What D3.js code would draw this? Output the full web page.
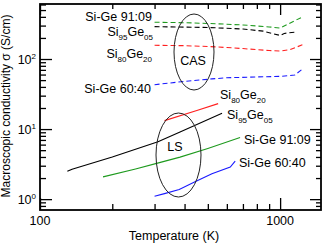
<!DOCTYPE html>
<html>
<head>
<meta charset="utf-8">
<script src="https://cdn.jsdelivr.net/npm/d3@7"></script>
<style>
  body { margin: 0; background: #fff; }
  svg { font-family: "Liberation Sans", Arial, sans-serif; }
</style>
</head>
<body>
<svg width="324" height="243"></svg>
<script>
// CAS curves (dashed)
var casT91 = [300, 400, 500, 600, 700, 800, 900, 1000, 1240];
var casS91 = [335, 330, 322, 314, 306, 296, 287, 277, 400];
var casT95 = [300, 500, 700, 850, 1000, 1040, 1150];
var casS95 = [290, 282, 268, 250, 217, 232, 242];
var casT80 = [300, 400, 500, 600, 700, 800, 900, 1000, 1100, 1240];
var casS80 = [157, 155, 151, 146, 141, 136, 132, 130, 136, 160];
var casT60 = [300, 400, 520, 600, 800, 1000, 1150, 1240];
var casS60 = [43, 48, 52, 54, 55.5, 56.5, 59, 72];

// LS curves (solid)
var lsT95 = [130, 136, 200, 310, 383, 450, 573];
var lsS95 = [2.5, 2.68, 4.0, 6.6, 9.1, 11.6, 16.8];
var lsT80 = [330, 450, 552];
var lsS80 = [13.2, 18.4, 23.1];
var lsT91 = [183, 250, 306, 383, 500, 681];
var lsS91 = [2.08, 2.7, 3.24, 3.98, 5.3, 7.56];
var lsT60 = [300, 330, 380, 440, 520, 620, 650];
var lsS60 = [1.10, 1.20, 1.37, 1.75, 2.30, 2.87, 3.50];

var xMajor = [100, 1000];
var xMinor = [200, 300, 400, 500, 600, 700, 800, 900];
var yMajor = [1, 10, 100];
var yMinor = [0.8, 0.9, 2, 3, 4, 5, 6, 7, 8, 9, 20, 30, 40, 50, 60, 70, 80, 90, 200, 300, 400, 500, 600];
var yExp = ["0", "1", "2"];

var pLeft = 40, pRight = 321, pTop = 4, pBottom = 210;

var x = d3.scaleLog().domain([100, 1480]).range([pLeft, pRight]);
var y = d3.scaleLog().domain([0.7, 610]).range([pBottom, pTop]);

var svg = d3.select("svg");

var zip = function(ts, ss){
	return ts.map(function(t, i){ return { t: t, s: ss[i] }; });
};

var line = d3.line()
	.x(function(d){ return x(d.t); })
	.y(function(d){ return y(d.s); });

var curves = [
	{ d: zip(casT91, casS91), c: "#1e9a1e", dash: true },
	{ d: zip(casT95, casS95), c: "#000", dash: true },
	{ d: zip(casT80, casS80), c: "#ff2020", dash: true },
	{ d: zip(casT60, casS60), c: "#1a1aff", dash: true },
	{ d: zip(lsT95, lsS95), c: "#000", dash: false },
	{ d: zip(lsT80, lsS80), c: "#ff2020", dash: false },
	{ d: zip(lsT91, lsS91), c: "#1e9a1e", dash: false },
	{ d: zip(lsT60, lsS60), c: "#1a1aff", dash: false }
];

svg.selectAll("path.curve")
	.data(curves)
	.enter()
	.append("path")
	.attr("class", "curve")
	.attr("d", function(c){ return line(c.d); })
	.attr("fill", "none")
	.attr("stroke", function(c){ return c.c; })
	.attr("stroke-width", 1.1)
	.attr("stroke-dasharray", function(c){ return c.dash ? "5,3" : null; });

// axes: ticks point inward on all four sides
var axisStyle = function(g){
	g.select(".domain").remove();
	g.selectAll(".tick line").attr("stroke", "#000").attr("stroke-width", 1.3);
	g.selectAll(".tick text").remove();
};

svg.append("g").attr("transform", "translate(0," + pBottom + ")")
	.call(d3.axisBottom(x).tickValues(xMajor).tickSize(-12)).call(axisStyle);
svg.append("g").attr("transform", "translate(0," + pBottom + ")")
	.call(d3.axisBottom(x).tickValues(xMinor).tickSize(-6)).call(axisStyle);
svg.append("g").attr("transform", "translate(0," + pTop + ")")
	.call(d3.axisTop(x).tickValues(xMajor).tickSize(-11)).call(axisStyle);
svg.append("g").attr("transform", "translate(0," + pTop + ")")
	.call(d3.axisTop(x).tickValues(xMinor).tickSize(-5)).call(axisStyle);
svg.append("g").attr("transform", "translate(" + pLeft + ",0)")
	.call(d3.axisLeft(y).tickValues(yMajor).tickSize(-12)).call(axisStyle);
svg.append("g").attr("transform", "translate(" + pLeft + ",0)")
	.call(d3.axisLeft(y).tickValues(yMinor).tickSize(-6)).call(axisStyle);
svg.append("g").attr("transform", "translate(" + pRight + ",0)")
	.call(d3.axisRight(y).tickValues(yMajor).tickSize(-11)).call(axisStyle);
svg.append("g").attr("transform", "translate(" + pRight + ",0)")
	.call(d3.axisRight(y).tickValues(yMinor).tickSize(-5)).call(axisStyle);

svg.append("rect")
	.attr("x", pLeft).attr("y", pTop)
	.attr("width", pRight - pLeft).attr("height", pBottom - pTop)
	.attr("fill", "none").attr("stroke", "#000").attr("stroke-width", 1.8);

// tick labels
svg.selectAll("text.xl")
	.data(xMajor)
	.enter()
	.append("text")
	.attr("class", "xl")
	.attr("x", function(d){ return x(d); })
	.attr("y", 225)
	.attr("text-anchor", "middle")
	.attr("font-size", 12.5)
	.text(function(d){ return d; });

var yl = svg.selectAll("text.yl")
	.data(yMajor)
	.enter()
	.append("text")
	.attr("class", "yl")
	.attr("x", 36)
	.attr("y", function(d){ return y(d) + 5; })
	.attr("text-anchor", "end")
	.attr("font-size", 12.5);
yl.append("tspan").text("10");
yl.append("tspan").attr("font-size", 8).attr("dy", -5).text(function(d, i){ return yExp[i]; });

// axis titles
svg.append("text")
	.attr("x", 174).attr("y", 240)
	.attr("text-anchor", "middle")
	.attr("font-size", 12.5)
	.text("Temperature (K)");

svg.append("text")
	.attr("transform", "translate(10,106) rotate(-90)")
	.attr("text-anchor", "middle")
	.attr("font-size", 12)
	.text("Macroscopic conductivity \u03c3 (S/cm)");

// curve labels, with subscripts
var labels = [
	{ x: 152, y: 20.5, a: "end", parts: [["Si-Ge 91:09", 0]] },
	{ x: 153, y: 36, a: "end", parts: [["Si", 0], ["95", 1], ["Ge", 0], ["05", 1]] },
	{ x: 152, y: 58, a: "end", parts: [["Si", 0], ["80", 1], ["Ge", 0], ["20", 1]] },
	{ x: 151, y: 93, a: "end", parts: [["Si-Ge 60:40", 0]] },
	{ x: 220, y: 99, a: "start", parts: [["Si", 0], ["80", 1], ["Ge", 0], ["20", 1]] },
	{ x: 227, y: 119, a: "start", parts: [["Si", 0], ["95", 1], ["Ge", 0], ["05", 1]] },
	{ x: 244, y: 144, a: "start", parts: [["Si-Ge 91:09", 0]] },
	{ x: 239, y: 167, a: "start", parts: [["Si-Ge 60:40", 0]] }
];

labels.forEach(function(l){
	var t = svg.append("text")
		.attr("x", l.x).attr("y", l.y)
		.attr("text-anchor", l.a)
		.attr("font-size", 12.5);
	var shift = 0;
	l.parts.forEach(function(p){
		var dy = p[1] ? 4 - shift : -shift;
		shift = p[1] ? 4 : 0;
		t.append("tspan")
			.attr("dy", dy)
			.attr("font-size", p[1] ? 8 : 12.5)
			.text(p[0]);
	});
});

// group ellipses
svg.append("ellipse")
	.attr("cx", 194).attr("cy", 52).attr("rx", 20).attr("ry", 38)
	.attr("fill", "none").attr("stroke", "#222").attr("stroke-width", 1);
svg.append("text")
	.attr("x", 193).attr("y", 64.5)
	.attr("text-anchor", "middle").attr("font-size", 12.5)
	.text("CAS");

svg.append("ellipse")
	.attr("cx", 178.5).attr("cy", 155).attr("rx", 22.5).attr("ry", 42)
	.attr("fill", "none").attr("stroke", "#222").attr("stroke-width", 1);
svg.append("text")
	.attr("x", 175).attr("y", 151)
	.attr("text-anchor", "middle").attr("font-size", 12.5)
	.text("LS");
</script>
</body>
</html>
